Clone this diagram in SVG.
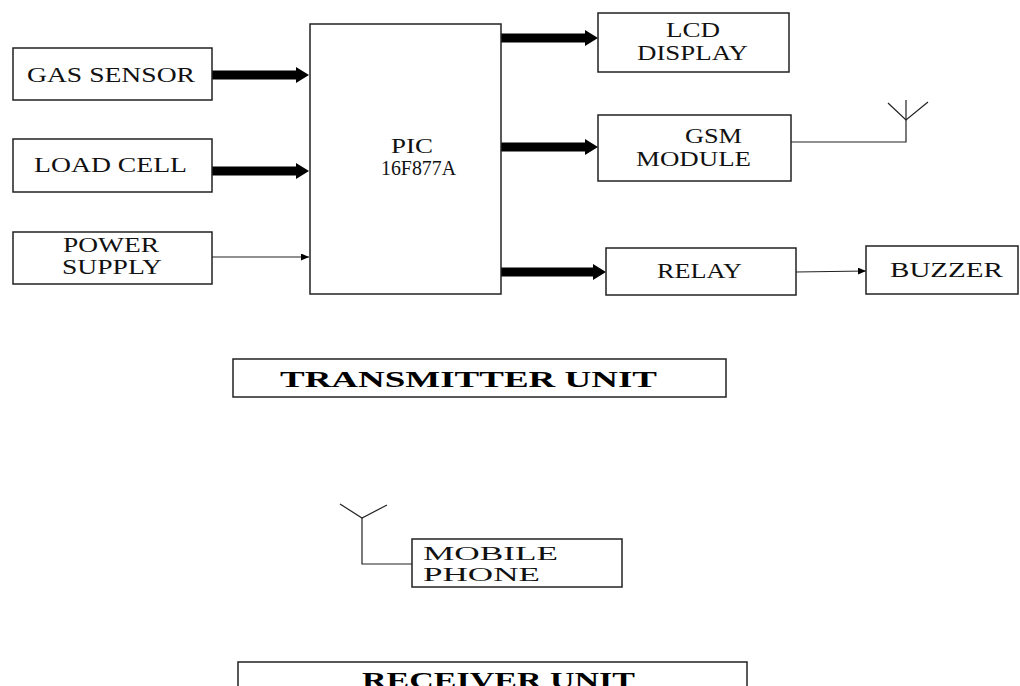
<svg xmlns="http://www.w3.org/2000/svg" width="1020" height="686" viewBox="0 0 1020 686">
<style>
.box{fill:#fff;stroke:#222;stroke-width:1.5}
.t{font-family:"Liberation Serif","Times New Roman",serif;font-size:21px;fill:#111}
.s{font-size:19px}
.tb{font-family:"Liberation Serif","Times New Roman",serif;font-size:24px;font-weight:bold;fill:#000}
.thick{stroke:#000;stroke-width:9;fill:none}
.thin{stroke:#222;stroke-width:1.2;fill:none}
</style>
<defs>
<marker id="big" markerUnits="userSpaceOnUse" markerWidth="13" markerHeight="16" refX="0" refY="8" orient="auto"><path d="M0,0 L13,8 L0,16 z" fill="#000"/></marker>
<marker id="small" markerUnits="userSpaceOnUse" markerWidth="8" markerHeight="7" refX="8" refY="3.5" orient="auto"><path d="M0,0 L8,3.5 L0,7 z" fill="#000"/></marker>
</defs>
<rect width="1020" height="686" fill="#fff"/>
<g id="connectors">
<line class="thick" x1="212" y1="75" x2="296" y2="75" marker-end="url(#big)"/>
<line class="thick" x1="212" y1="171" x2="296" y2="171" marker-end="url(#big)"/>
<line class="thin" x1="212" y1="257" x2="309" y2="257" marker-end="url(#small)"/>
<line class="thick" x1="500" y1="38" x2="585" y2="38" marker-end="url(#big)"/>
<line class="thick" x1="497" y1="147" x2="585" y2="147" marker-end="url(#big)"/>
<line class="thick" x1="500" y1="272" x2="593" y2="272" marker-end="url(#big)"/>
<line class="thin" x1="796" y1="272" x2="866" y2="271" marker-end="url(#small)"/>
<polyline class="thin" points="791,142 906,142 906,100"/>
<polyline class="thin" points="888,103 906,120 928,102"/>
<polyline class="thin" points="412,564 362,564 362,518"/>
<polyline class="thin" points="340,504 362,518 387,505"/>
</g>
<g id="gas"><rect class="box" x="13" y="48" width="199" height="52"/><text class="t" x="27" y="82" textLength="168" lengthAdjust="spacingAndGlyphs">GAS SENSOR</text></g>
<g id="load"><rect class="box" x="13" y="139" width="199" height="53"/><text class="t" x="34" y="172" textLength="153" lengthAdjust="spacingAndGlyphs">LOAD CELL</text></g>
<g id="power"><rect class="box" x="13" y="232" width="199" height="52"/><text class="t" x="63" y="252" textLength="96" lengthAdjust="spacingAndGlyphs">POWER</text><text class="t" x="62" y="274" textLength="100" lengthAdjust="spacingAndGlyphs">SUPPLY</text></g>
<g id="pic"><rect class="box" x="310" y="24" width="191" height="270"/><text class="t" x="391" y="153" textLength="42" lengthAdjust="spacingAndGlyphs">PIC</text><text class="t" x="381" y="175" textLength="75" lengthAdjust="spacingAndGlyphs">16F877A</text></g>
<g id="lcd"><rect class="box" x="598" y="13" width="191" height="59"/><text class="t" x="666" y="37" textLength="54" lengthAdjust="spacingAndGlyphs">LCD</text><text class="t" x="637" y="60" textLength="111" lengthAdjust="spacingAndGlyphs">DISPLAY</text></g>
<g id="gsm"><rect class="box" x="598" y="115" width="193" height="66"/><text class="t" x="685" y="143" textLength="57" lengthAdjust="spacingAndGlyphs">GSM</text><text class="t" x="636" y="166" textLength="115" lengthAdjust="spacingAndGlyphs">MODULE</text></g>
<g id="relay"><rect class="box" x="606" y="248" width="190" height="47"/><text class="t" x="657" y="278" textLength="85" lengthAdjust="spacingAndGlyphs">RELAY</text></g>
<g id="buzzer"><rect class="box" x="866" y="246" width="152" height="48"/><text class="t" x="890" y="277" textLength="113" lengthAdjust="spacingAndGlyphs">BUZZER</text></g>
<g id="tx"><rect class="box" x="233" y="359" width="493" height="38"/><text class="tb" x="280" y="387" textLength="377" lengthAdjust="spacingAndGlyphs">TRANSMITTER UNIT</text></g>
<g id="mobile"><rect class="box" x="412" y="539" width="210" height="48"/><text class="t s" x="423" y="560" textLength="135" lengthAdjust="spacingAndGlyphs">MOBILE</text><text class="t s" x="423" y="581" textLength="117" lengthAdjust="spacingAndGlyphs">PHONE</text></g>
<g id="rx"><rect class="box" x="238" y="662" width="509" height="40"/><text class="tb" x="362" y="688" textLength="273" lengthAdjust="spacingAndGlyphs">RECEIVER UNIT</text></g>
</svg>
